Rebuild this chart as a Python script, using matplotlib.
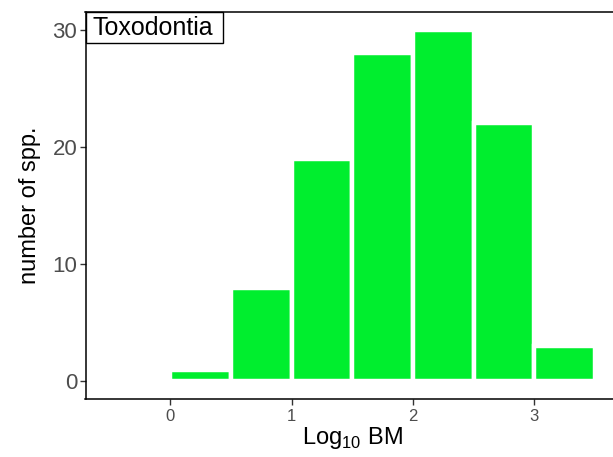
import numpy as np
import matplotlib
matplotlib.use("Agg")
from matplotlib import pyplot as plt
from matplotlib.patches import Rectangle

plt.rcParams['font.family'] = ['Liberation Sans', 'DejaVu Sans']
plt.rcParams['mathtext.fontset'] = 'custom'
plt.rcParams['mathtext.rm'] = 'Liberation Sans'

# histogram bins (log10 body mass) and counts
bin_left = [0.0, 0.5, 1.0, 1.5, 2.0, 2.5, 3.0]
counts = [1, 8, 19, 28, 30, 22, 3]
bin_width = 0.5
group = "Toxodontia"

fig = plt.figure(figsize=(6.13, 4.57), dpi=100)
ax = fig.add_axes([85.5 / 613, 58 / 457, (619 - 85.5) / 613, (445 - 58) / 457])

ax.bar(bin_left, counts, width=bin_width, align='edge',
       color='#00EE2E', edgecolor='white', linewidth=3.2)

ax.set_xlim(-0.7, 3.7)
ax.set_ylim(-1.5, 31.5)
ax.set_xticks([0, 1, 2, 3])
ax.set_yticks([0, 10, 20, 30])

ax.spines['right'].set_visible(False)
for s in ['left', 'top', 'bottom']:
    ax.spines[s].set_color('black')
    ax.spines[s].set_linewidth(1.1)

ax.tick_params(axis='x', labelsize=12, colors='#4d4d4d', length=4, width=1, pad=3)
ax.tick_params(axis='y', labelsize=16, colors='#4d4d4d', length=4, width=1, pad=2)
ax.tick_params(axis='both', color='#333333')

ax.set_xlabel(r'Log$_{10}$ BM', fontsize=17, labelpad=1)
ax.set_ylabel('number of spp.', fontsize=17, labelpad=8)

# panel label box in the top-left corner
ax.add_patch(Rectangle((0, 1 - 31 / 387), 137 / 533.5, 31 / 387,
                       transform=ax.transAxes, facecolor='white',
                       edgecolor='black', linewidth=1, clip_on=False, zorder=5))
ax.text(7 / 533.5, 1 - 23 / 387, group, transform=ax.transAxes, fontsize=18,
        ha='left', va='baseline', zorder=6)

fig.savefig('out.png', dpi=100)
